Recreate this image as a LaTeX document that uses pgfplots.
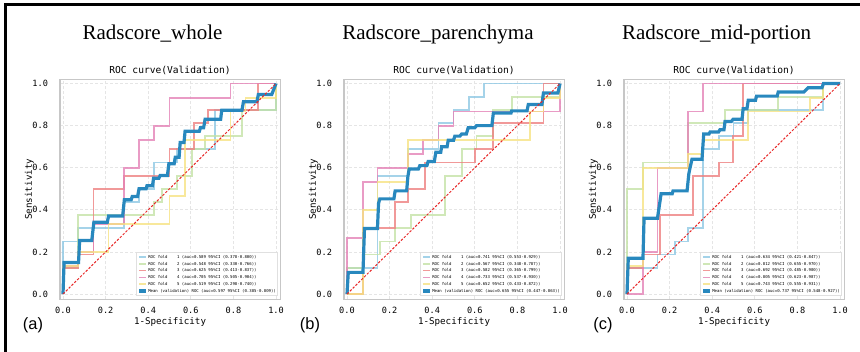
\documentclass[border=0pt]{standalone}
\usepackage{fontspec}
\setmainfont{Liberation Serif}
\newfontfamily\monofont{DejaVu Sans Mono}
\newfontfamily\arialfont{Liberation Sans}
\usepackage{pgfplots}
\pgfplotsset{compat=1.18}
\definecolor{cF1}{RGB}{142,200,228}
\definecolor{cF2}{RGB}{196,226,166}
\definecolor{cF3}{RGB}{238,128,128}
\definecolor{cF4}{RGB}{228,130,182}
\definecolor{cF5}{RGB}{246,226,130}
\definecolor{cMean}{RGB}{40,136,190}
\definecolor{cDiag}{RGB}{232,40,40}
\pgfplotsset{
  rocax/.style={
    scale only axis, width=110.25pt, height=110pt,
    xmin=-0.015, xmax=1.02, ymin=-0.025, ymax=1.02,
    xtick={0,0.2,0.4,0.6,0.8,1}, ytick={0,0.2,0.4,0.6,0.8,1},
    xticklabels={0.0,0.2,0.4,0.6,0.8,1.0}, yticklabels={0.0,0.2,0.4,0.6,0.8,1.0},
    major tick length=0pt,
    tick label style={font=\monofont\fontsize{4.3}{5}\selectfont},
    xticklabel style={yshift=-0.3pt},
    yticklabel style={xshift=-2.4pt},
    axis line style={draw=black!22, line width=0.7pt},
    grid=major, grid style={dash pattern=on 1.5pt off 1pt, black!10, line width=0.35pt},
    title={ROC curve(Validation)},
    every axis title/.style={at={(0.5,1)}, anchor=base, yshift=2.9pt, inner sep=0pt, font=\monofont\fontsize{4.8}{5.5}\selectfont},
    xlabel={1-Specificity}, ylabel={Sensitivity},
    every axis x label/.style={at={(axis description cs:0.5,-0.103)}, anchor=center, font=\monofont\fontsize{4.6}{5.5}\selectfont},
    every axis y label/.style={at={(axis description cs:-0.138,0.5)}, anchor=center, rotate=90, font=\monofont\fontsize{4.6}{5.5}\selectfont},
    legend style={at={(0.99,0.015)}, anchor=south east, draw=black!12, fill=white, font=\monofont\fontsize{2}{2.4}\selectfont, inner sep=0.6pt, row sep=0pt,
      nodes={anchor=west, inner sep=0.3pt, text height=2.1pt, text depth=0.7pt, minimum height=0pt}},
    legend cell align=left,
    legend image code/.code={\draw[#1] (0pt,0pt) -- (3.4pt,0pt);},
  },
  fold/.style={line width=0.9pt, opacity=0.8},
  meanc/.style={cMean, line width=1.6pt},
  diag/.style={cDiag, line width=0.5pt, dash pattern=on 1.2pt off 0.8pt, forget plot},
}
\begin{document}
\begin{tikzpicture}
\path[use as bounding box] (0,0) rectangle (430pt,176pt);
\draw[line width=1.5pt, line join=miter] (2.5pt,0) -- (2.5pt,173.5pt) -- (430pt,173.5pt);
\node[anchor=base, font=\fontsize{10.5}{12}\selectfont] at (76.25pt,156pt) {Radscore\_whole};
\node[anchor=base, font=\fontsize{10.5}{12}\selectfont] at (219pt,156pt) {Radscore\_parenchyma};
\node[anchor=base, font=\fontsize{10.5}{12}\selectfont] at (358.25pt,156pt) {Radscore\_mid-portion};
\node[font=\arialfont\fontsize{8.2}{9}\selectfont] at (16.5pt,13.5pt) {(a)};
\node[font=\arialfont\fontsize{8.2}{9}\selectfont] at (155pt,13.5pt) {(b)};
\node[font=\arialfont\fontsize{8.2}{9}\selectfont] at (301.5pt,13.5pt) {(c)};

% ---------------- Panel (a)
\begin{axis}[rocax, at={(29.9pt,26.35pt)}, anchor=south west]
\addplot[fold, cF1] coordinates {(0,0)(0,0.25)(0.071,0.25)(0.071,0.3125)(0.286,0.3125)(0.286,0.4375)(0.357,0.4375)(0.357,0.5)(0.429,0.5)(0.429,0.625)(0.536,0.625)(0.536,0.6875)(0.714,0.6875)(0.714,0.875)(1,0.875)(1,1)};
\addlegendentry{ROC fold~~~~1 (auc=0.589 95\%CI (0.378-0.800))}
\addplot[fold, cF2] coordinates {(0,0)(0,0.125)(0.071,0.125)(0.071,0.375)(0.429,0.375)(0.429,0.4375)(0.464,0.4375)(0.464,0.5)(0.536,0.5)(0.536,0.5625)(0.607,0.5625)(0.607,0.6875)(0.667,0.6875)(0.667,0.75)(0.839,0.75)(0.839,0.875)(1,0.875)(1,1)};
\addlegendentry{ROC fold~~~~2 (auc=0.548 95\%CI (0.330-0.766))}
\addplot[fold, cF3] coordinates {(0,0)(0,0.125)(0.071,0.125)(0.071,0.1875)(0.143,0.1875)(0.143,0.5)(0.286,0.5)(0.286,0.5625)(0.5,0.5625)(0.5,0.6875)(0.616,0.6875)(0.616,0.8125)(0.679,0.8125)(0.679,0.875)(0.917,0.875)(0.917,1)(1,1)};
\addlegendentry{ROC fold~~~~3 (auc=0.625 95\%CI (0.413-0.837))}
\addplot[fold, cF4] coordinates {(0,0)(0,0.133)(0.071,0.133)(0.071,0.2)(0.143,0.2)(0.143,0.333)(0.286,0.333)(0.286,0.6)(0.357,0.6)(0.357,0.733)(0.429,0.733)(0.429,0.8)(0.5,0.8)(0.5,0.933)(0.786,0.933)(0.786,1)(1,1)};
\addlegendentry{ROC fold~~~~4 (auc=0.705 95\%CI (0.505-0.904))}
\addplot[fold, cF5] coordinates {(0,0)(0,0.133)(0.071,0.133)(0.071,0.2)(0.214,0.2)(0.214,0.333)(0.5,0.333)(0.5,0.467)(0.571,0.467)(0.571,0.733)(0.786,0.733)(0.786,0.867)(0.857,0.867)(0.857,0.933)(1,0.933)(1,1)};
\addlegendentry{ROC fold~~~~5 (auc=0.519 95\%CI (0.298-0.740))}
\addplot[meanc] coordinates {(0,0)(0.005,0.15)(0.073,0.15)(0.078,0.254)(0.135,0.254)(0.145,0.341)(0.208,0.341)(0.214,0.371)(0.28,0.371)(0.288,0.448)(0.32,0.448)(0.325,0.463)(0.35,0.463)(0.357,0.5)(0.39,0.5)(0.394,0.514)(0.42,0.514)(0.425,0.55)(0.45,0.55)(0.456,0.563)(0.49,0.563)(0.497,0.619)(0.522,0.619)(0.527,0.65)(0.545,0.65)(0.55,0.72)(0.568,0.72)(0.573,0.773)(0.64,0.773)(0.645,0.79)(0.66,0.79)(0.667,0.83)(0.74,0.83)(0.745,0.873)(0.84,0.873)(0.847,0.913)(0.91,0.913)(0.917,0.948)(0.98,0.948)(1,1)};
\addlegendentry{Mean (validation) ROC (auc=0.597 95\%CI (0.385-0.809))}
\addplot[diag] coordinates {(0,0)(1,1)};
\end{axis}

% ---------------- Panel (b)
\begin{axis}[rocax, at={(171.9pt,26.35pt)}, anchor=south west]
\addplot[fold, cF1] coordinates {(0,0)(0,0.125)(0.143,0.125)(0.143,0.5625)(0.286,0.5625)(0.286,0.6875)(0.429,0.6875)(0.429,0.8125)(0.5,0.8125)(0.5,0.875)(0.571,0.875)(0.571,0.9375)(0.643,0.9375)(0.643,1)(1,1)};
\addlegendentry{ROC fold~~~~1 (auc=0.741 95\%CI (0.553-0.929))}
\addplot[fold, cF2] coordinates {(0,0)(0,0.125)(0.075,0.125)(0.075,0.1875)(0.154,0.1875)(0.154,0.25)(0.224,0.25)(0.224,0.3125)(0.302,0.3125)(0.302,0.375)(0.459,0.375)(0.459,0.5625)(0.538,0.5625)(0.538,0.6875)(0.608,0.6875)(0.608,0.75)(0.687,0.75)(0.687,0.875)(0.773,0.875)(0.773,0.9375)(1,0.9375)(1,1)};
\addlegendentry{ROC fold~~~~2 (auc=0.567 95\%CI (0.348-0.787))}
\addplot[fold, cF3] coordinates {(0,0)(0.075,0)(0.075,0.3125)(0.224,0.3125)(0.224,0.4375)(0.287,0.4375)(0.287,0.5)(0.365,0.5)(0.365,0.625)(0.6,0.625)(0.6,0.6875)(0.687,0.6875)(0.687,0.8125)(0.922,0.8125)(0.922,1)(1,1)};
\addlegendentry{ROC fold~~~~3 (auc=0.582 95\%CI (0.365-0.799))}
\addplot[fold, cF4] coordinates {(0,0)(0,0.267)(0.075,0.267)(0.075,0.533)(0.143,0.533)(0.143,0.6)(0.287,0.6)(0.287,0.667)(0.357,0.667)(0.357,0.733)(0.429,0.733)(0.429,0.8)(0.5,0.8)(0.5,0.867)(1,0.867)(1,1)};
\addlegendentry{ROC fold~~~~4 (auc=0.733 95\%CI (0.537-0.930))}
\addplot[fold, cF5] coordinates {(0,0)(0.075,0)(0.075,0.4)(0.143,0.4)(0.143,0.533)(0.287,0.533)(0.287,0.733)(0.86,0.733)(0.86,0.867)(0.922,0.867)(0.922,0.933)(1,0.933)(1,1)};
\addlegendentry{ROC fold~~~~5 (auc=0.652 95\%CI (0.433-0.872))}
\addplot[meanc] coordinates {(0,0)(0.006,0.103)(0.075,0.103)(0.082,0.311)(0.143,0.311)(0.148,0.43)(0.154,0.452)(0.22,0.452)(0.226,0.49)(0.28,0.49)(0.286,0.56)(0.292,0.594)(0.335,0.594)(0.342,0.61)(0.375,0.61)(0.381,0.63)(0.41,0.63)(0.417,0.673)(0.44,0.673)(0.444,0.7)(0.47,0.7)(0.475,0.73)(0.5,0.73)(0.506,0.75)(0.53,0.75)(0.538,0.76)(0.56,0.76)(0.569,0.79)(0.6,0.79)(0.608,0.8)(0.68,0.8)(0.687,0.86)(0.77,0.86)(0.773,0.87)(0.845,0.87)(0.851,0.9)(0.915,0.9)(0.922,0.955)(0.99,0.955)(1,1)};
\addlegendentry{Mean (validation) ROC (auc=0.655 95\%CI (0.447-0.863))}
\addplot[diag] coordinates {(0,0)(1,1)};
\end{axis}

% ---------------- Panel (c)
\begin{axis}[rocax, at={(311.9pt,26.35pt)}, anchor=south west]
\addplot[fold, cF1] coordinates {(0,0)(0,0.125)(0.143,0.125)(0.143,0.1875)(0.224,0.1875)(0.224,0.25)(0.287,0.25)(0.287,0.3125)(0.357,0.3125)(0.357,0.6875)(0.43,0.6875)(0.43,0.75)(0.5,0.75)(0.5,0.8125)(0.569,0.8125)(0.569,0.875)(0.92,0.875)(0.92,1)(1,1)};
\addlegendentry{ROC fold~~~~1 (auc=0.634 95\%CI (0.421-0.847))}
\addplot[fold, cF2] coordinates {(0,0)(0,0.5)(0.075,0.5)(0.075,0.625)(0.287,0.625)(0.287,0.8125)(0.459,0.8125)(0.459,0.875)(0.71,0.875)(0.71,0.9375)(0.92,0.9375)(0.92,1)(1,1)};
\addlegendentry{ROC fold~~~~2 (auc=0.812 95\%CI (0.655-0.970))}
\addplot[fold, cF3] coordinates {(0,0)(0,0.125)(0.075,0.125)(0.075,0.1875)(0.154,0.1875)(0.154,0.375)(0.31,0.375)(0.31,0.5625)(0.43,0.5625)(0.43,0.625)(0.498,0.625)(0.498,0.75)(0.545,0.75)(0.545,1)(1,1)};
\addlegendentry{ROC fold~~~~3 (auc=0.692 95\%CI (0.485-0.900))}
\addplot[fold, cF4] coordinates {(0,0)(0.075,0)(0.075,0.2)(0.143,0.2)(0.143,0.6)(0.287,0.6)(0.287,0.867)(0.357,0.867)(0.357,1)(1,1)};
\addlegendentry{ROC fold~~~~4 (auc=0.805 95\%CI (0.623-0.987))}
\addplot[fold, cF5] coordinates {(0,0)(0,0.133)(0.075,0.133)(0.075,0.6)(0.287,0.6)(0.287,0.667)(0.357,0.667)(0.357,0.733)(0.569,0.733)(0.569,0.867)(0.86,0.867)(0.86,0.933)(0.92,0.933)(0.92,1)(1,1)};
\addlegendentry{ROC fold~~~~5 (auc=0.743 95\%CI (0.555-0.931))}
\addplot[meanc] coordinates {(0,0)(0.006,0.17)(0.075,0.17)(0.08,0.36)(0.143,0.36)(0.16,0.476)(0.212,0.476)(0.216,0.49)(0.282,0.49)(0.29,0.57)(0.296,0.6)(0.305,0.64)(0.352,0.64)(0.36,0.76)(0.385,0.76)(0.39,0.77)(0.43,0.77)(0.436,0.78)(0.455,0.78)(0.46,0.82)(0.49,0.82)(0.498,0.83)(0.54,0.83)(0.545,0.88)(0.563,0.88)(0.569,0.92)(0.603,0.92)(0.608,0.94)(0.705,0.94)(0.71,0.96)(0.83,0.96)(0.85,0.98)(0.915,0.98)(0.922,1)(1,1)};
\addlegendentry{Mean (validation) ROC (auc=0.737 95\%CI (0.548-0.927))}
\addplot[diag] coordinates {(0,0)(1,1)};
\end{axis}
\end{tikzpicture}
\end{document}
